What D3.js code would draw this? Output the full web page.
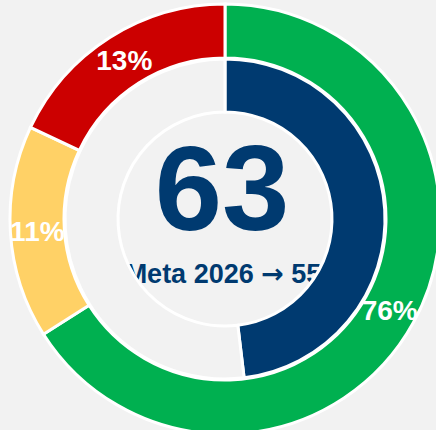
<!DOCTYPE html>
<html>
<head>
<meta charset="utf-8">
<script src="https://cdn.jsdelivr.net/npm/d3@7"></script>
<style>
    body { margin: 0; background: #f2f2f2; }
    svg { display: block; font-family: "Liberation Sans", Arial, sans-serif; }
</style>
</head>
<body>
<div id="chart"></div>
<script>
// outer ring: arc sizes as drawn, and the labels printed on them
const segments = ["Verde", "Amarillo", "Rojo"];
const segmentShare = [66, 16, 18];
const segmentLabels = ["76%", "11%", "13%"];
const segmentColors = ["#00b050", "#ffd166", "#cc0000"];

// inner ring: score and the rest of the track
const innerParts = ["Puntaje", "Resto"];
const innerValues = [63, 68];
const innerColors = ["#003a70", "#f2f2f2"];

const scoreText = "63";
const goalParts = ["Meta 2026 ", "\u2192", " 55"];

const width = 436;
const height = 430;
const cx = 225, cy = 219;

const svg = d3.select("#chart").append("svg")
    .attr("width", width)
    .attr("height", height);

svg.append("rect")
    .attr("width", width)
    .attr("height", height)
    .attr("fill", "#f2f2f2");

const g = svg.append("g")
    .attr("transform", `translate(${cx},${cy})`);

const pie = d3.pie().sort(null).value(d => d.value);

// outer ring
const outerArc = d3.arc().innerRadius(161).outerRadius(215);
const labelArc = d3.arc().innerRadius(188).outerRadius(188);

const outerData = pie(segments.map((name, i) => ({ name, value: segmentShare[i], i })));

g.selectAll("path.outer")
    .data(outerData)
    .join("path")
    .attr("class", "outer")
    .attr("d", outerArc)
    .attr("fill", d => segmentColors[d.data.i])
    .attr("stroke", "#fff")
    .attr("stroke-width", 3);

g.selectAll("text.pct")
    .data(outerData)
    .join("text")
    .attr("class", "pct")
    .attr("transform", d => `translate(${labelArc.centroid(d)})`)
    .attr("text-anchor", "middle")
    .attr("dy", "0.36em")
    .attr("fill", "#fff")
    .attr("font-size", 28)
    .attr("font-weight", "bold")
    .text(d => segmentLabels[d.data.i]);

// center text (drawn under the inner ring)
g.append("text")
    .attr("x", -3)
    .attr("y", 11)
    .attr("text-anchor", "middle")
    .attr("fill", "#003a70")
    .attr("font-size", 121)
    .attr("font-weight", "bold")
    .text(scoreText);

const goal = g.append("text")
    .attr("x", -2)
    .attr("y", 64)
    .attr("text-anchor", "middle")
    .attr("fill", "#003a70")
    .attr("font-size", 27)
    .attr("font-weight", "bold");

goal.selectAll("tspan")
    .data(goalParts)
    .join("tspan")
    .attr("font-family", (d, i) => i === 1 ? "DejaVu Sans" : null)
    .attr("xml:space", "preserve")
    .text(d => d);

// inner ring
const innerArc = d3.arc().innerRadius(107).outerRadius(160);
const innerData = pie(innerParts.map((name, i) => ({ name, value: innerValues[i], i })));

g.selectAll("path.inner")
    .data(innerData)
    .join("path")
    .attr("class", "inner")
    .attr("d", innerArc)
    .attr("fill", d => innerColors[d.data.i])
    .attr("stroke", "#fff")
    .attr("stroke-width", 3);
</script>
</body>
</html>
